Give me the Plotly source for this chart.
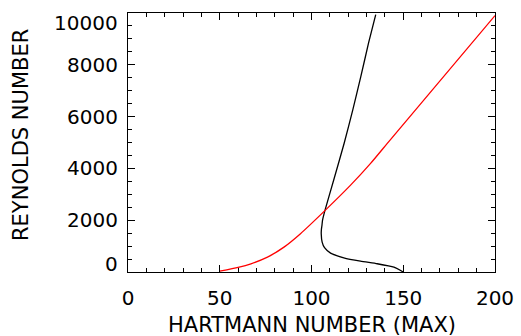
import plotly.graph_objects as go

# Data
black_x = [150, 144.9, 135.8, 126.7, 117.6, 110.4, 107.1, 105.8, 105.3, 105.4, 105.7, 106.0, 107.3, 112.3, 117.8, 122.5, 126.9, 131.1, 135.0]
black_y = [0, 186, 318, 419, 550, 729, 938, 1155, 1480, 1650, 1800, 1996, 2370, 3600, 4969, 6260, 7550, 8845, 9940]

red_x = [50, 60, 67, 76, 85, 94, 107.3, 121.3, 132.2, 142.7, 200]
red_y = [30, 180, 318, 574, 961, 1480, 2370, 3353, 4194, 5085, 9900]

y_ticks = [0, 2000, 4000, 6000, 8000, 10000]
y_ticktext = ["0", "2000", "4000", "6000", "8000", "10000"]

x_title = "HARTMANN NUMBER (MAX)"
y_title = "REYNOLDS NUMBER"

FONT = "DejaVu Sans"
FS = 20
FS_TITLE = 21

fig = go.Figure()
fig.add_trace(go.Scatter(x=black_x, y=black_y, mode="lines",
                         line=dict(color="black", width=1.3, shape="spline", smoothing=0.5),
                         showlegend=False))
fig.add_trace(go.Scatter(x=red_x, y=red_y, mode="lines",
                         line=dict(color="#ff0000", width=1.3, shape="spline", smoothing=0.5),
                         showlegend=False))

fig.update_xaxes(range=[0, 200], tickmode="linear", tick0=0, dtick=50,
                 ticks="inside", ticklen=7, tickwidth=1, tickcolor="black",
                 showline=True, linecolor="black", linewidth=1, mirror="ticks",
                 showgrid=False, zeroline=False, automargin=False,
                 ticklabelstandoff=8,
                 tickfont=dict(family=FONT, size=FS, color="black"),
                 minor=dict(dtick=10, tick0=0, ticks="inside", ticklen=4, tickcolor="black", showgrid=False))
fig.update_yaxes(range=[0, 10000], tickmode="linear", tick0=0, dtick=2000,
                 ticks="inside", ticklen=7, tickwidth=1, tickcolor="black",
                 showline=True, linecolor="black", linewidth=1, mirror="ticks",
                 showgrid=False, zeroline=False, showticklabels=False, automargin=False,
                 minor=dict(dtick=500, tick0=0, ticks="inside", ticklen=4, tickcolor="black", showgrid=False))

annotations = []
for i, (v, t) in enumerate(zip(y_ticks, y_ticktext)):
    if i == 0:
        anchor, ys = "bottom", -6
    elif i == len(y_ticks) - 1:
        anchor, ys = "top", 4
    else:
        anchor, ys = "middle", 0
    annotations.append(dict(x=0, xref="paper", y=v, yref="y", text=t, showarrow=False,
                            xanchor="right", yanchor=anchor, xshift=-8, yshift=ys,
                            font=dict(family=FONT, size=FS, color="black")))
annotations.append(dict(x=0.5, xref="paper", y=0, yref="paper", text=x_title, showarrow=False,
                        xanchor="center", yanchor="middle", yshift=-53,
                        font=dict(family=FONT, size=FS_TITLE, color="black")))
annotations.append(dict(x=0, xref="paper", y=0.529, yref="paper", text=y_title, showarrow=False,
                        xanchor="center", yanchor="middle", xshift=-107, textangle=-90,
                        font=dict(family=FONT, size=FS_TITLE, color="black")))

fig.update_layout(width=521, height=336, margin=dict(l=128, r=26, t=13, b=64, autoexpand=False),
                  paper_bgcolor="white", plot_bgcolor="white",
                  annotations=annotations, showlegend=False)

fig.write_html("out.html", config={"displayModeBar": False},
               post_script="document.body.style.margin='0';document.body.style.padding='0';")
